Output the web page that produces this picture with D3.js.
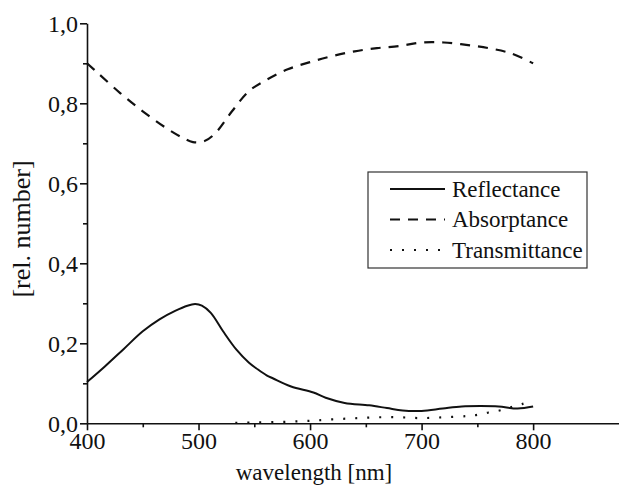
<!DOCTYPE html>
<html><head><meta charset="utf-8">
<script src="https://cdn.jsdelivr.net/npm/d3@7"></script>
<style>body{margin:0;background:#fff}svg{display:block}</style>
</head><body>
<svg id="c" width="619" height="488"></svg>
<script>
const seriesNames = ["Reflectance", "Absorptance", "Transmittance"];
const reflWl =  [400, 416, 433, 450, 465, 479, 490, 497, 503, 511, 522, 534, 545, 553, 561, 567, 583, 603, 614, 631, 653, 669, 683, 700, 719, 736, 753, 769, 786, 800];
const reflVal = [0.103, 0.142, 0.186, 0.230, 0.260, 0.281, 0.294, 0.298, 0.294, 0.276, 0.230, 0.184, 0.152, 0.135, 0.120, 0.112, 0.092, 0.077, 0.064, 0.051, 0.045, 0.038, 0.032, 0.031, 0.037, 0.042, 0.043, 0.042, 0.037, 0.042];
const absWl =  [400, 410, 430, 450, 470, 485, 495, 505, 515, 530, 545, 560, 580, 600, 620, 640, 660, 680, 700, 720, 740, 760, 780, 800];
const absVal = [0.900, 0.875, 0.825, 0.780, 0.740, 0.715, 0.703, 0.705, 0.725, 0.780, 0.830, 0.857, 0.885, 0.903, 0.918, 0.930, 0.938, 0.943, 0.952, 0.952, 0.946, 0.938, 0.925, 0.900];
const traWl =  [533, 550, 570, 590, 605, 620, 640, 660, 680, 700, 720, 740, 750, 760, 770, 780, 790, 800];
const traVal = [0.001, 0.002, 0.003, 0.005, 0.007, 0.010, 0.0125, 0.015, 0.015, 0.013, 0.015, 0.018, 0.021, 0.027, 0.032, 0.040, 0.048, 0.057];
const xMajor = [400, 500, 600, 700, 800];
const xMinor = [450, 550, 650, 750];
const yMajor = [0, 0.2, 0.4, 0.6, 0.8, 1.0];
const yMinor = [0.1, 0.3, 0.5, 0.7, 0.9];
const yTickLabels = ["0,0", "0,2", "0,4", "0,6", "0,8", "1,0"];
const xTitle = "wavelength [nm]";
const yTitle = "[rel. number]";

const svg = d3.select("#c");
const FONT = '"Liberation Serif", "Times New Roman", serif';
const x = d3.scaleLinear().domain([400, 877]).range([87, 619]);
const y = d3.scaleLinear().domain([0, 1]).range([423.3, 23.3]);

const xg = svg.append("g").attr("transform", `translate(0,${y(0)})`);
xg.call(d3.axisBottom(x).tickValues(xMajor).tickSize(7).tickSizeOuter(0).tickFormat(d3.format("d")));
const xm = svg.append("g").attr("transform", `translate(0,${y(0)})`);
xm.call(d3.axisBottom(x).tickValues(xMinor).tickSize(4).tickSizeOuter(0).tickFormat(""));
xm.select(".domain").remove();
const yg = svg.append("g").attr("transform", `translate(${x(400)},0)`);
yg.call(d3.axisLeft(y).tickValues(yMajor).tickSize(7).tickSizeOuter(0).tickFormat((d,i)=>yTickLabels[i]));
const ym = svg.append("g").attr("transform", `translate(${x(400)},0)`);
ym.call(d3.axisLeft(y).tickValues(yMinor).tickSize(4).tickSizeOuter(0).tickFormat(""));
ym.select(".domain").remove();
svg.selectAll(".domain, .tick line").attr("stroke", "#111").attr("stroke-width", 1.6);
xg.selectAll("text").attr("dy", "0").attr("y", 26)
  .style("font-family", FONT).style("font-size", "24px").attr("fill", "#111");
yg.selectAll("text").attr("x", -9).attr("dy", "0.33em")
  .style("font-family", FONT).style("font-size", "24px").attr("fill", "#111");

svg.append("text").attr("x", 314).attr("y", 480).attr("text-anchor", "middle")
  .style("font-family", FONT).style("font-size", "23px").attr("fill", "#111").text(xTitle);
svg.append("text").attr("transform", "translate(30,229) rotate(-90)").attr("text-anchor", "middle")
  .style("font-family", FONT).style("font-size", "26px").attr("fill", "#111").text(yTitle);

const line = d3.line().x(d => x(d[0])).y(d => y(d[1])).curve(d3.curveCatmullRom.alpha(0.5));
const styles = [
  {dash: null, w: 2},
  {dash: "10 8", w: 2.2},
  {dash: "2 10", w: 2.2}
];
const sets = [d3.zip(reflWl, reflVal), d3.zip(absWl, absVal), d3.zip(traWl, traVal)];
sets.forEach((s, i) => {
  svg.append("path").datum(s).attr("d", line).attr("fill", "none")
    .attr("stroke", "#111").attr("stroke-width", styles[i].w)
    .attr("stroke-dasharray", styles[i].dash);
});

const lg = svg.append("g");
lg.append("rect").attr("x", 368).attr("y", 172).attr("width", 219).attr("height", 96)
  .attr("fill", "#fff").attr("stroke", "#333").attr("stroke-width", 1.2);
seriesNames.forEach((n, i) => {
  const cy = 189 + i * 30.5;
  lg.append("line").attr("x1", 390).attr("x2", 445).attr("y1", cy).attr("y2", cy)
    .attr("stroke", "#111").attr("stroke-width", styles[i].w).attr("stroke-dasharray", styles[i].dash);
  lg.append("text").attr("x", 452).attr("y", cy).attr("dy", "0.33em")
    .style("font-family", FONT).style("font-size", "23px").attr("fill", "#111").text(n);
});
</script>
</body></html>
